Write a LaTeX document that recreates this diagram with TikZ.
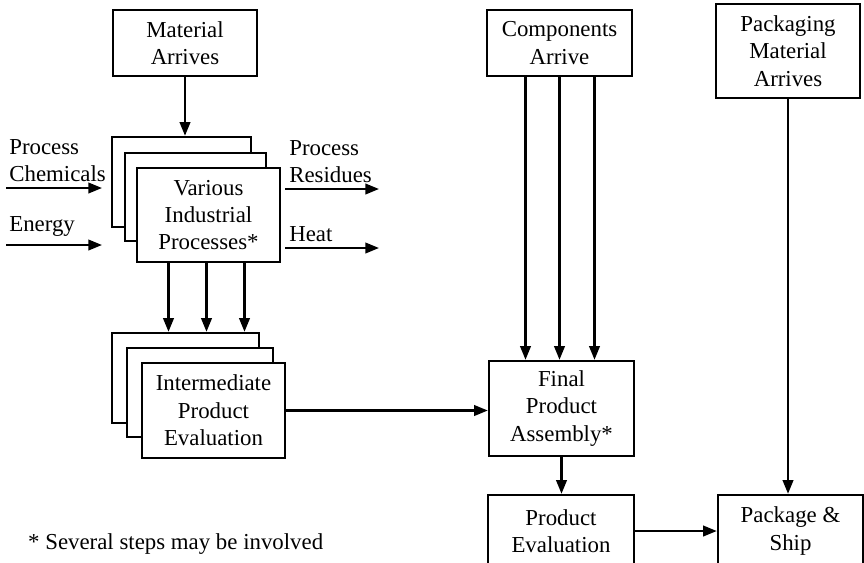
\documentclass[tikz,border=0pt]{standalone}
\usepackage{fontspec}
\setmainfont{Liberation Serif}
\usetikzlibrary{arrows.meta,calc}

\begin{document}
\begin{tikzpicture}[
  x=0.02cm, y=-0.02cm,
  every node/.style = {font=\fontsize{13}{15.6}\selectfont},
  blk/.style  = {rectangle, draw, line width=1.4pt, fill=white,
                 align=center, inner sep=0pt},
  arr/.style  = {-{Triangle[length=7.8pt,width=6pt]}, line width=1.3pt},
  lbl/.style  = {align=left, inner sep=0pt},
]
\clip (0,0) rectangle (864,562);

% arrivals along the top
\node[blk, minimum width=2.88cm, minimum height=1.32cm] (mat)  at (185,43)   {Material\\Arrives};
\node[blk, minimum width=2.90cm, minimum height=1.32cm] (comp) at (559.5,43) {Components\\Arrive};
\node[blk, minimum width=2.88cm, minimum height=1.88cm] (pack) at (788,51)   {Packaging\\Material\\Arrives};

% stacked process boxes
\node[blk, minimum width=2.78cm, minimum height=1.80cm] (procC) at (181.5,182) {};
\node[blk, minimum width=2.82cm, minimum height=1.76cm] (procB) at (195.5,197) {};
\node[blk, minimum width=2.86cm, minimum height=1.88cm] (proc)  at (208.5,215) {Various\\Industrial\\Processes*};

% stacked evaluation boxes
\node[blk, minimum width=2.94cm, minimum height=1.80cm] (interC) at (185.5,378) {};
\node[blk, minimum width=2.92cm, minimum height=1.78cm] (interB) at (200,392.5) {};
\node[blk, minimum width=2.86cm, minimum height=1.90cm] (inter)  at (213.5,410.5) {Intermediate\\Product\\Evaluation};

\node[blk, minimum width=2.90cm, minimum height=1.90cm] (final) at (561.5,408.5) {Final\\Product\\Assembly*};
\node[blk, minimum width=2.92cm, minimum height=1.44cm] (peval) at (561,531)    {Product\\Evaluation};
\node[blk, minimum width=2.90cm, minimum height=1.44cm] (ship)  at (790.5,531)  {Package \&\\Ship};

% inputs and outputs of the processes
\coordinate (chemIn)  at (6,188);   \coordinate (chemEnd)  at (102,188);
\coordinate (enIn)    at (6,245);   \coordinate (enEnd)    at (102,245);
\coordinate (resIn)   at (285,189); \coordinate (resEnd)   at (379,189);
\coordinate (heatIn)  at (285,248); \coordinate (heatEnd)  at (379,248);
\node[lbl, anchor=south west] (chemLbl) at (9,182)   {Process\\Chemicals};
\node[lbl, anchor=south west] (enLbl)   at (9,237)   {Energy};
\node[lbl, anchor=south west] (resLbl)  at (289,183) {Process\\Residues};
\node[lbl, anchor=south west] (heatLbl) at (289,242) {Heat};

\draw[arr] (chemIn) -- (chemEnd);
\draw[arr] (enIn)   -- (enEnd);
\draw[arr] (resIn)  -- (resEnd);
\draw[arr] (heatIn) -- (heatEnd);

% flow
\draw[arr] (mat.south) -- (mat.south |- procC.north);
\foreach \dx [count=\i] in {-40,-2,36} {
  \coordinate (procOut\i) at ($(proc.south)+(\dx,0)$);
  \draw[arr] (procOut\i) -- (procOut\i |- interC.north);
}
\foreach \dx [count=\i] in {-34,0,35} {
  \coordinate (compOut\i) at ($(comp.south)+(\dx,0)$);
  \draw[arr] (compOut\i) -- (compOut\i |- final.north);
}
\draw[arr] (inter.east)  -- (inter.east -| final.west);
\draw[arr] (final.south) -- (final.south |- peval.north);
\draw[arr] (pack.south)  -- (pack.south |- ship.north);
\draw[arr] (peval.east)  -- (peval.east -| ship.west);

\node[anchor=west] (note) at (22,544) {* Several steps may be involved};
\end{tikzpicture}
\end{document}
